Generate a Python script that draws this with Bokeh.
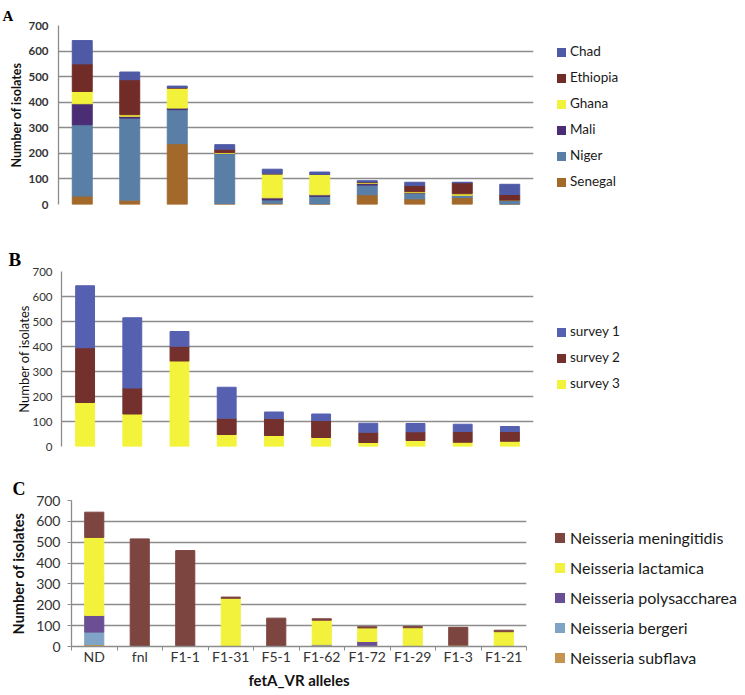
from bokeh.plotting import figure
from bokeh.models import Range1d, FixedTicker, ColumnDataSource, Div
from bokeh.layouts import column, row
from bokeh.embed import file_html
from bokeh.resources import INLINE

alleles = ["ND", "fnl", "F1-1", "F1-31", "F5-1", "F1-62", "F1-72", "F1-29", "F1-3", "F1-21"]
y_ticks = [0, 100, 200, 300, 400, 500, 600, 700]

# Panel A: by country (stack order bottom -> top)
countries = ["Senegal", "Niger", "Mali", "Ghana", "Ethiopia", "Chad"]
senegal = [33, 17, 238, 3, 5, 2, 38, 22, 27, 1]
niger = [279, 321, 133, 196, 13, 30, 38, 22, 9, 16]
mali = [82, 7, 6, 1, 8, 6, 6, 2, 0, 0]
ghana = [48, 6, 78, 3, 94, 80, 3, 4, 6, 0]
ethiopia = [108, 137, 2, 13, 0, 0, 3, 24, 43, 22]
chad = [91, 30, 6, 18, 18, 9, 5, 13, 2, 40]
country_colors = ["#a2692a", "#5a7fa6", "#4a2d74", "#f2f23a", "#722c28", "#4e5aa6"]

# Panel B: by survey (bottom -> top)
surveys = ["survey 3", "survey 2", "survey 1"]
survey3 = [176, 130, 342, 48, 44, 36, 16, 24, 17, 21]
survey2 = [219, 104, 59, 65, 68, 68, 41, 35, 43, 39]
survey1 = [248, 281, 59, 124, 26, 26, 36, 33, 29, 20]
survey_colors = ["#f3f33c", "#73302c", "#5660b0"]

# Panel C: by species (bottom -> top)
species = ["Neisseria subflava", "Neisseria bergeri", "Neisseria polysaccharea",
           "Neisseria lactamica", "Neisseria meningitidis"]
subflava = [10, 0, 0, 0, 0, 2, 2, 0, 4, 0]
bergeri = [59, 0, 0, 2, 0, 6, 2, 0, 0, 0]
polysaccharea = [80, 0, 0, 0, 0, 0, 20, 0, 0, 0]
lactamica = [374, 0, 0, 229, 0, 118, 65, 90, 2, 71]
meningitidis = [121, 516, 460, 6, 136, 7, 6, 6, 86, 7]
species_colors = ["#c49450", "#7fa4c6", "#6a4f94", "#f2f23c", "#7d4540"]

FONT = "Lato"
GRID = "#8c8c8c"
xs = [i + 0.5 for i in range(len(alleles))]


def base_fig(width, height, left, right, top, bottom, letter, letter_size,
             letter_offset, letter_valign, letter_standoff):
    p = figure(width=width, height=height, x_range=Range1d(0, len(alleles)),
               y_range=Range1d(0, 700), output_backend="svg", toolbar_location=None,
               min_border_left=left, min_border_right=right,
               min_border_top=top, min_border_bottom=bottom)
    p.outline_line_color = None
    p.background_fill_color = "white"
    p.xgrid.visible = False
    p.ygrid.ticker = FixedTicker(ticks=y_ticks)
    p.ygrid.grid_line_color = GRID
    p.ygrid.grid_line_width = 1.3
    p.yaxis.ticker = FixedTicker(ticks=y_ticks)
    p.yaxis.axis_line_color = GRID
    p.yaxis.axis_line_width = 1.3
    p.yaxis.minor_tick_line_color = None
    p.yaxis.major_tick_in = 0
    p.yaxis.axis_label = "Number of isolates"
    p.yaxis.axis_label_text_font = FONT
    p.yaxis.major_label_text_font = FONT
    p.yaxis.major_label_text_color = "#333333"
    p.yaxis.axis_label_text_color = "#111111"
    p.title.text = letter
    p.title.align = "left"
    p.title.offset = letter_offset
    p.title.text_font = "Liberation Serif"
    p.title.text_font_style = "bold"
    p.title.text_font_size = letter_size
    p.title.text_color = "black"
    p.title.vertical_align = letter_valign
    p.title.standoff = letter_standoff
    return p


def legend_div(width, height, names, colors, left, first_center, pitch, glyph, gap, fsize):
    parts = []
    for i, (n, c) in enumerate(zip(names, colors)):
        top = first_center + i * pitch - pitch / 2
        parts.append(
            f'<div style="position:absolute;left:{left}px;top:{top}px;height:{pitch}px;'
            f'display:flex;align-items:center;white-space:nowrap;">'
            f'<span style="display:inline-block;width:{glyph}px;height:{glyph}px;'
            f'background:{c};margin-right:{gap}px;"></span><span>{n}</span></div>')
    html = (f'<div style="position:relative;width:{width}px;height:{height}px;'
            f'font-family:{FONT};font-size:{fsize};color:#1a1a1a;line-height:1;">'
            + "".join(parts) + "</div>")
    return Div(text=html, width=width, height=height, margin=0)


# ---------------- Panel A ----------------
srcA = ColumnDataSource(dict(x=xs, Senegal=senegal, Niger=niger, Mali=mali,
                             Ghana=ghana, Ethiopia=ethiopia, Chad=chad))
pA = base_fig(537, 218, 58, 4, 25, 14, "A", "15px", -56, "top", 0)
pA.vbar_stack(countries, x="x", width=0.42, color=country_colors, source=srcA)
pA.xaxis.visible = False
pA.yaxis.major_tick_out = 0
pA.yaxis.major_label_standoff = 10
pA.yaxis.major_label_text_font_size = "11.5px"
pA.yaxis.major_label_text_font_style = "bold"
pA.yaxis.axis_label_text_font_size = "12.5px"
pA.yaxis.axis_label_text_font_style = "bold"
pA.yaxis.axis_label_standoff = 1
lA = legend_div(208, 218, countries[::-1], country_colors[::-1], 20, 52, 26, 9, 4, "13.5px")

# ---------------- Panel B ----------------
srcB = ColumnDataSource(dict(x=xs, s3=survey3, s2=survey2, s1=survey1))
pB = base_fig(537, 238, 61, 4, 53, 10, "B", "19px", -53, "bottom", 4)
pB.vbar_stack(["s3", "s2", "s1"], x="x", width=0.40, color=survey_colors, source=srcB)
pB.xaxis.visible = False
pB.yaxis.major_tick_out = 0
pB.yaxis.major_label_standoff = 9
pB.yaxis.major_label_text_font_size = "11.5px"
pB.yaxis.axis_label_text_font_size = "13px"
pB.yaxis.axis_label_text_font_style = "normal"
pB.yaxis.axis_label_standoff = -3
lB = legend_div(208, 238, surveys[::-1], survey_colors[::-1], 20, 114, 26, 9, 4, "13.5px")

# ---------------- Panel C ----------------
srcC = ColumnDataSource(dict(x=xs, sub=subflava, ber=bergeri, pol=polysaccharea,
                             lac=lactamica, men=meningitidis))
pC = base_fig(530, 239, 71, 4, 44, 49, "C", "18px", -59, "bottom", 4)
pC.vbar_stack(["sub", "ber", "pol", "lac", "men"], x="x", width=0.42,
              color=species_colors, source=srcC)
pC.yaxis.major_tick_out = 4
pC.yaxis.major_tick_line_color = GRID
pC.yaxis.major_label_standoff = 7
pC.yaxis.major_label_text_font_size = "14px"
pC.yaxis.axis_label_text_font_size = "14.5px"
pC.yaxis.axis_label_text_font_style = "bold"
pC.yaxis.axis_label_standoff = 6
pC.xaxis.ticker = FixedTicker(ticks=xs, minor_ticks=list(range(len(alleles) + 1)))
pC.xaxis.major_label_overrides = {x: a for x, a in zip(xs, alleles)}
pC.xaxis.major_tick_line_color = None
pC.xaxis.major_tick_out = 0
pC.xaxis.minor_tick_line_color = GRID
pC.xaxis.minor_tick_out = 4
pC.xaxis.minor_tick_in = 0
pC.xaxis.axis_line_color = GRID
pC.xaxis.axis_line_width = 1.3
pC.xaxis.major_label_standoff = -3
pC.xaxis.major_label_text_font = FONT
pC.xaxis.major_label_text_font_size = "14px"
pC.xaxis.major_label_text_color = "#333333"
pC.xaxis.axis_label = "fetA_VR alleles"
pC.xaxis.axis_label_text_font = FONT
pC.xaxis.axis_label_text_font_size = "15px"
pC.xaxis.axis_label_text_font_style = "bold"
pC.xaxis.axis_label_text_color = "#111111"
pC.xaxis.axis_label_standoff = 3
lC = legend_div(215, 239, species[::-1], species_colors[::-1], 25, 82, 30, 10, 5, "16px")

layout = column(row(pA, lA, spacing=0), row(pB, lB, spacing=0),
                row(pC, lC, spacing=0), spacing=0)
open("out.html", "w").write(file_html(layout, INLINE))
